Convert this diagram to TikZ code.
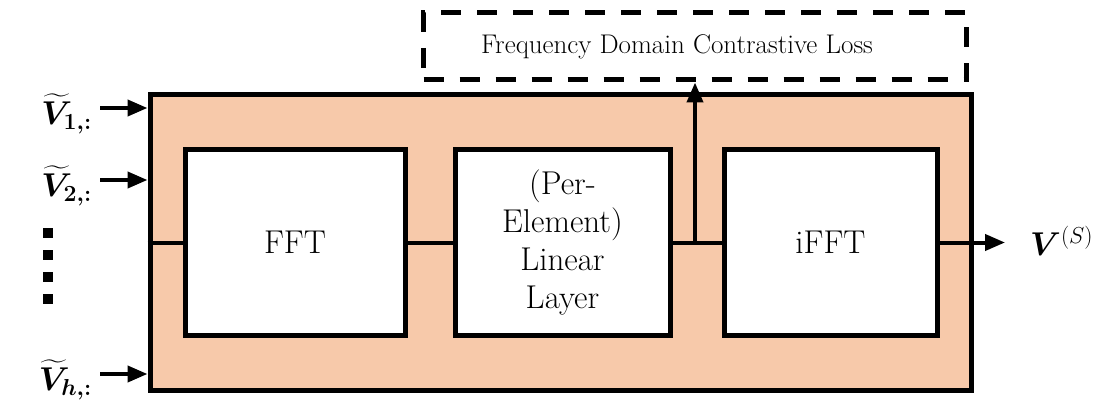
\RequirePackage{fix-cm}
\documentclass[tikz,border=0pt]{standalone}
\usepackage{amsmath,bm}
\usepackage{fontspec}
\usetikzlibrary{arrows.meta}
\definecolor{peach}{RGB}{247,201,170}
\begin{document}
\begin{tikzpicture}[x=1pt,y=-1pt,
  frame/.style={draw=black, line width=5pt, inner sep=0pt},
  stage/.style={frame, fill=white, minimum height=185pt, align=center,
    font=\fontsize{33}{38}\selectfont},
  lnk/.style={line width=4pt},
  flow/.style={line width=4pt, -{Triangle[length=20pt,width=16pt]}},
  inlabel/.style={anchor=east, inner sep=0pt, font=\fontsize{33}{36}\selectfont},
  dotsq/.style={fill=black, minimum size=10pt, inner sep=0pt}]
\useasboundingbox (0,0) rectangle (1119,401);

% enclosing block
\node[frame, fill=peach, minimum width=821pt, minimum height=295pt] (outer) at (560.5,242.5) {};

% processing stages
\node[stage, minimum width=220pt] (fft) at (295,242.5) {FFT};
\node[stage, minimum width=215pt] (lin) at (562.5,242.5) {(Per-\\Element)\\Linear\\Layer};
\node[stage, minimum width=213pt] (ifft) at (830.5,242.5) {iFFT};

% loss box
\node[draw=black, line width=5pt, dash pattern=on 20pt off 16pt, minimum width=543pt,
  minimum height=67pt, inner sep=0pt, font=\fontsize{27}{30}\selectfont]
  (loss) at (695,46.5) {Frequency Domain Contrastive Loss\hspace*{36pt}};

% internal signal path
\draw[lnk] (outer.west) -- (fft.west);
\draw[lnk] (fft.east) -- (lin.west);
\draw[lnk] (lin.east) -- (ifft.west);
\coordinate (j) at (695,242.5);
\draw[flow] (j) -- (loss.south);

% output
\coordinate (tip) at (1005,242.5);
\draw[lnk] (ifft.east) -- (outer.east);
\draw[flow] (outer.east) -- (tip);
\node[anchor=west, inner sep=0pt, font=\fontsize{33}{36}\selectfont] (vs) at (1030,241) {$\bm{V}^{(S)}$};

% inputs
\coordinate (a1) at (100,108);
\coordinate (a2) at (100,180);
\coordinate (ah) at (100,374);
\draw[flow] (a1) -- (outer.west |- a1);
\draw[flow] (a2) -- (outer.west |- a2);
\draw[flow] (ah) -- (outer.west |- ah);
\node[inlabel] (v1) at (92,114) {$\widetilde{\bm{V}}_{\bm{1,:}}$};
\node[inlabel] (v2) at (92,186) {$\widetilde{\bm{V}}_{\bm{2,:}}$};
\node[inlabel] (vh) at (92,380) {$\widetilde{\bm{V}}_{\bm{h,:}}$};

% vertical ellipsis
\foreach \i/\yy in {1/233,2/255,3/277,4/299}
  \node[dotsq] (dot\i) at (48,\yy) {};
\end{tikzpicture}
\end{document}
